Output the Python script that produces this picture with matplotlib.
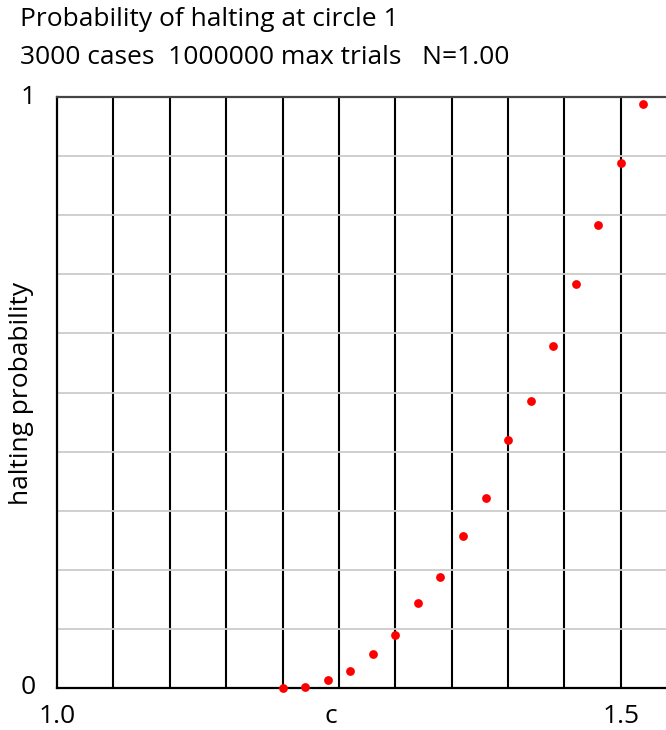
import matplotlib
matplotlib.use("Agg")
import matplotlib.pyplot as plt

# halting probability vs c
c_vals = [1.20, 1.22, 1.24, 1.26, 1.28, 1.30, 1.32, 1.34, 1.36,
          1.38, 1.40, 1.42, 1.44, 1.46, 1.48, 1.50, 1.52]
p_halt = [0.000, 0.002, 0.013, 0.028, 0.058, 0.089, 0.143, 0.187, 0.258,
          0.321, 0.420, 0.485, 0.579, 0.683, 0.783, 0.888, 0.989]

title1 = "Probability of halting at circle 1"
title2 = "3000 cases  1000000 max trials   N=1.00"

plt.rcParams['font.family'] = ['Open Sans', 'DejaVu Sans']

fig = plt.figure(figsize=(6.66, 7.30), dpi=100)
ax = fig.add_axes([57/666, 1 - 688/730, 1 - 57/666, (688 - 97)/730])

ax.set_xlim(1.0, 1.54)
ax.set_ylim(0, 1)

# grid: black verticals every 0.05, light gray horizontals every 0.1
for i in range(1, 11):
    ax.axvline(1.0 + 0.05 * i, color="black", lw=1.5, zorder=1)
for i in range(1, 10):
    ax.axhline(0.1 * i, color="#cccccc", lw=1.3, zorder=1)

ax.scatter(c_vals, p_halt, s=40, color="red", zorder=3, clip_on=False,
           linewidths=0)

for side in ["left", "bottom"]:
    ax.spines[side].set_color("black")
    ax.spines[side].set_linewidth(1.6)
ax.spines["top"].set_color("#444444")
ax.spines["top"].set_linewidth(1.6)
ax.spines["right"].set_visible(False)

ax.set_xticks([])
ax.set_yticks([])

fs = 19
# x labels sit just under the axis, kept inside the canvas
ax.text(1.0, -0.049, "1.0", ha="center", va="center", fontsize=fs)
ax.text(1.5, -0.049, "1.5", ha="center", va="center", fontsize=fs)
ax.text(1.2425, -0.049, "c", ha="center", va="center", fontsize=fs)
ax.text(-29/609, 0.0, "0", ha="center", va="center", fontsize=fs, transform=ax.transAxes)
ax.text(-29/609, 1.0, "1", ha="center", va="center", fontsize=fs, transform=ax.transAxes)
fig.text(22/666, 1 - 393/730, "halting probability", rotation=90,
         ha="center", va="center", fontsize=fs)

fig.text(20/666, 1 - 19/730, title1, ha="left", va="center", fontsize=fs)
fig.text(20/666, 1 - 57/730, title2, ha="left", va="center", fontsize=fs)

fig.savefig("out.png", dpi=100)
